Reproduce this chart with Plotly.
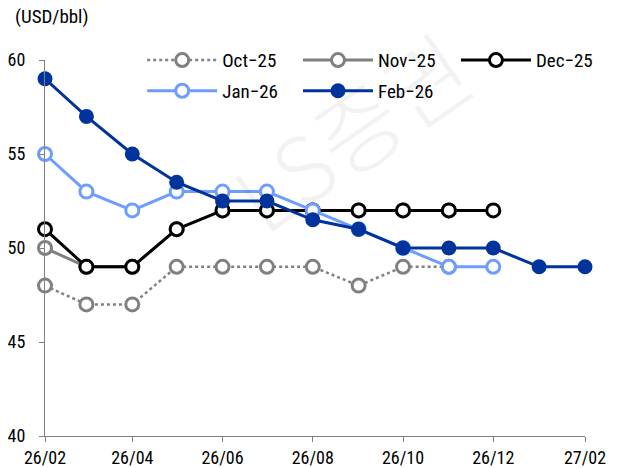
import plotly.graph_objects as go

months = ["2026-02-01", "2026-03-01", "2026-04-01", "2026-05-01", "2026-06-01", "2026-07-01",
          "2026-08-01", "2026-09-01", "2026-10-01", "2026-11-01", "2026-12-01", "2027-01-01",
          "2027-02-01"]

oct25 = [48, 47, 47, 49, 49, 49, 49, 48, 49, 49]
nov25 = [50, 49, 49, 51, 52, 52, 52, 52, 52, 52]
dec25 = [51, 49, 49, 51, 52, 52, 52, 52, 52, 52, 52]
jan26 = [55, 53, 52, 53, 53, 53, 52, 51, 50, 49, 49]
feb26 = [59, 57, 55, 53.5, 52.5, 52.5, 51.5, 51, 50, 50, 50, 49, 49]

FONT = "Roboto Condensed, Liberation Sans, sans-serif"

series = [
    ("Oct\u221225", oct25, "#808080", "dot", "legend", False),
    ("Nov\u221225", nov25, "#808080", "solid", "legend2", False),
    ("Dec\u221225", dec25, "#000000", "solid", "legend3", False),
    ("Jan\u221226", jan26, "#6e9cff", "solid", "legend", False),
    ("Feb\u221226", feb26, "#00339c", "solid", "legend2", True),
]

fig = go.Figure()
for name, vals, color, dash, leg, filled in series:
    fig.add_trace(go.Scatter(
        x=months[:len(vals)], y=vals, name=name, mode="lines+markers",
        line=dict(color=color, width=3 if dash == "solid" else 2.5, dash=dash),
        marker=dict(size=15 if filled else 13, symbol="circle",
                    color=color if filled else "white",
                    line=dict(color=color, width=0 if filled else 3)),
        cliponaxis=False, legend=leg, legendgroup=name,
    ))

legend_common = dict(
    orientation="v", yanchor="top", xanchor="left",
    font=dict(family=FONT, size=19, color="#000000"),
    bgcolor="rgba(0,0,0,0)", itemwidth=70, tracegroupgap=3,
    traceorder="grouped",
)

# the page body adds an 8px offset, so margins are shifted to keep the plot in place
fig.update_layout(
    width=621, height=468,
    margin=dict(l=37, r=44, t=52, b=40, autoexpand=False),
    paper_bgcolor="white", plot_bgcolor="white",
    font=dict(family=FONT, size=18, color="#000000"),
    showlegend=True,
    legend=dict(x=0.18, y=1.05, **legend_common),
    legend2=dict(x=0.4685, y=1.05, **legend_common),
    legend3=dict(x=0.761, y=1.05, **legend_common),
    xaxis=dict(
        type="date", range=["2026-02-01", "2027-02-01"],
        tickformat="%y/%m", dtick="M2", tick0="2026-02-01",
        showgrid=False, zeroline=False,
        showline=True, linecolor="#808080", linewidth=1,
        ticks="outside", ticklen=5, tickcolor="#808080",
        tickfont=dict(family=FONT, size=18),
    ),
    yaxis=dict(
        range=[40, 60], dtick=5, showgrid=False, zeroline=False,
        showline=True, linecolor="#808080", linewidth=1,
        ticks="outside", ticklen=5, tickcolor="#808080",
        tickfont=dict(family=FONT, size=18), ticklabelstandoff=10,
    ),
    annotations=[
        dict(text="(USD/bbl)", xref="paper", yref="paper", x=-0.06, y=1.115,
             xanchor="left", yanchor="middle", showarrow=False,
             font=dict(family=FONT, size=19)),
        dict(text="LS증권", xref="paper", yref="paper", x=0.565, y=0.814,
             xanchor="center", yanchor="middle",
             showarrow=False, textangle=-35,
             font=dict(family="Noto Sans CJK KR", size=90, weight=300,
                       color="rgba(0,0,0,0.05)")),
    ],
)

fig.write_html("out.html")
